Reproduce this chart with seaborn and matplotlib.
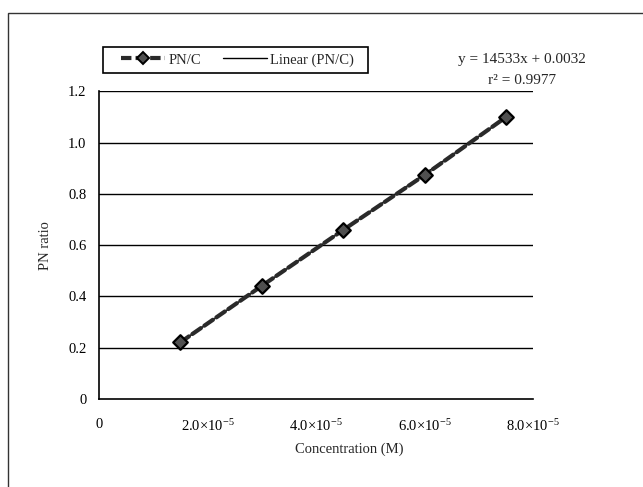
import numpy as np
import pandas as pd
import matplotlib
matplotlib.use("Agg")
import matplotlib.pyplot as plt
import matplotlib.ticker as mticker
from matplotlib.lines import Line2D
from matplotlib.patches import Rectangle
import seaborn as sns

# data
concentration = [1.5e-5, 3.0e-5, 4.5e-5, 6.0e-5, 7.5e-5]
pn_ratio = [0.221, 0.441, 0.659, 0.873, 1.099]
y_ticks = [0, 0.2, 0.4, 0.6, 0.8, 1.0, 1.2]
y_tick_labels = ["0", "0.2", "0.4", "0.6", "0.8", "1.0", "1.2"]
x_ticks = [0, 2e-5, 4e-5, 6e-5, 8e-5]
x_tick_labels = ["0", r"2.0$\times$10$^{-5}$", r"4.0$\times$10$^{-5}$",
                 r"6.0$\times$10$^{-5}$", r"8.0$\times$10$^{-5}$"]
equation = "y = 14533x + 0.0032"
r_squared = "r² = 0.9977"

df = pd.DataFrame({"conc": concentration, "pn": pn_ratio})

sns.set_style("white")
plt.rcParams["font.family"] = ["Liberation Serif", "DejaVu Serif"]
plt.rcParams["mathtext.fontset"] = "custom"
plt.rcParams["mathtext.rm"] = "Liberation Serif"
plt.rcParams["mathtext.it"] = "Liberation Serif:italic"
fs = 10.5
plt.rcParams["font.size"] = fs

W, H = 643, 487
fig = plt.figure(figsize=(6.43, 4.87), dpi=100)
ax = fig.add_axes([0.154, 0.1807, 0.675, 0.632])

# outer frame of the chart area
fig.patches.append(Rectangle((8 / W, -0.1), 1.2, 1 - 13 / H + 0.1,
                             transform=fig.transFigure, fill=False,
                             edgecolor="#333333", linewidth=1.0))

for yv in y_ticks[1:]:
    ax.axhline(yv, color="black", linewidth=1.0, zorder=1)

# trend line (least squares, drawn over data range)
sns.regplot(data=df, x="conc", y="pn", ax=ax, scatter=False, ci=None,
            truncate=True, line_kws={"color": "black", "linewidth": 1.0,
                                     "zorder": 2})

sns.lineplot(data=df, x="conc", y="pn", ax=ax, color="#2a2a2a",
             linewidth=3, zorder=3)
ax.lines[-1].set_dashes([2.5, 1])
ax.lines[-1].set_dash_capstyle("round")
sns.scatterplot(data=df, x="conc", y="pn", ax=ax, marker="D", s=55,
                color="#505050", edgecolor="black", linewidth=1.6, zorder=4)

ax.set_xlim(0, 8e-5)
ax.set_ylim(0, 1.2)
ax.set_yticks(y_ticks)
ax.set_yticklabels(y_tick_labels)
ax.set_xticks(x_ticks)
ax.set_xticklabels(x_tick_labels)
ax.xaxis.set_minor_locator(mticker.MultipleLocator(1e-5))
ax.tick_params(axis="both", which="both", direction="out", color="black",
               labelsize=fs, colors="black")
ax.tick_params(axis="y", length=5, width=1, pad=4)
ax.tick_params(axis="x", which="both", length=4, width=1, pad=10)

for side in ["top", "right"]:
    ax.spines[side].set_visible(False)
for side in ["left", "bottom"]:
    ax.spines[side].set_color("black")
    ax.spines[side].set_linewidth(1.2)

ax.set_xlabel("Concentration (M)", fontsize=fs)
ax.set_ylabel("PN ratio", fontsize=fs)
ax.xaxis.set_label_coords(0.576, -0.142)
ax.yaxis.set_label_coords(-0.108, 0.5)

# legend: entries without frame, box drawn separately for wider side padding
handles = [
    Line2D([], [], color="#2a2a2a", linewidth=3, dashes=[2.5, 1],
           marker="D", markersize=6.5, markerfacecolor="#505050",
           markeredgecolor="black", markeredgewidth=1.4),
    Line2D([], [], color="black", linewidth=1.0),
]
fig.legend(handles, ["PN/C", "Linear (PN/C)"], ncol=2, loc="center left",
           bbox_to_anchor=(121 / W, 1 - 60 / H), borderaxespad=0,
           frameon=False, fontsize=fs, handlelength=3.0, handletextpad=0.25,
           columnspacing=1.5, borderpad=0)
ax.legend_ = None
fig.patches.append(Rectangle((103 / W, 1 - 73 / H), 265 / W, 26 / H,
                             transform=fig.transFigure, fill=False,
                             edgecolor="black", linewidth=1.2))

fig.text(522 / W, 1 - 60 / H, equation, ha="center", va="center",
         fontsize=11)
fig.text(522 / W, 1 - 80 / H, r_squared, ha="center", va="center",
         fontsize=11)

fig.savefig("out.png", dpi=100)
